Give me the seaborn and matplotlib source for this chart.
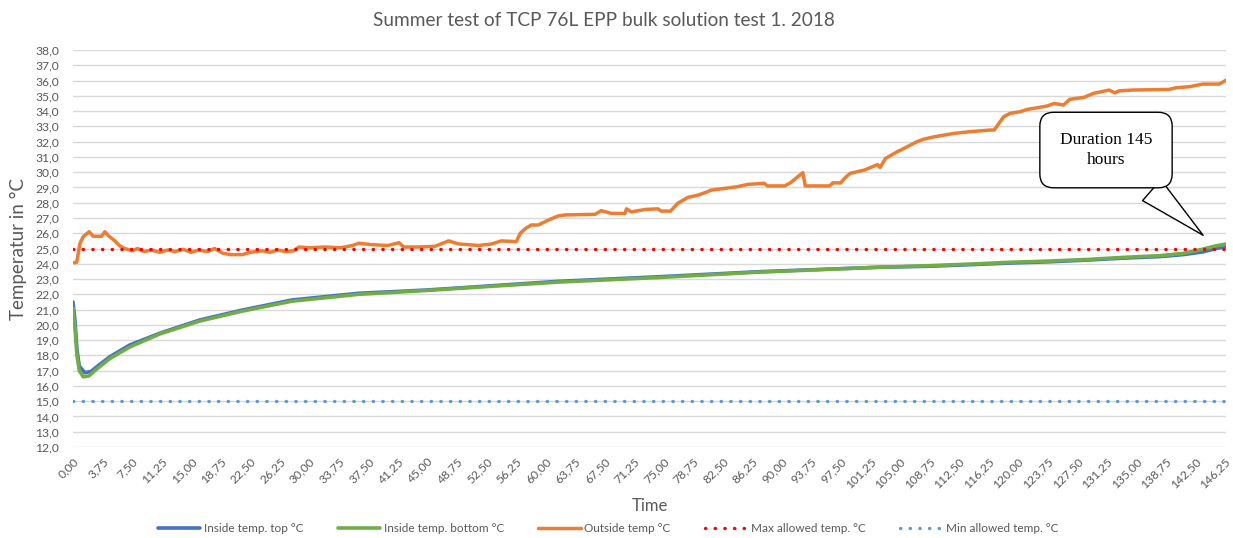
import numpy as np
import pandas as pd
import matplotlib
matplotlib.use("Agg")
import matplotlib.pyplot as plt
import seaborn as sns

# ---- data (time in hours, temperature in °C) ----
top_time = [0.0, 0.25, 0.5, 0.8, 1.5, 2.3, 3.0, 4.7, 7.2, 11.0, 16.1, 21.5, 27.8,
            36.3, 44.8, 49.0, 61.6, 74.3, 87.0, 102.2, 108.9, 114.4, 119.0, 124.0,
            129.1, 133.4, 138.0, 141.0, 143.5, 145.2, 146.5]
top_temp = [21.5, 20.3, 18.4, 17.3, 16.87, 16.95, 17.25, 17.92, 18.68, 19.45, 20.32,
            20.97, 21.63, 22.07, 22.28, 22.42, 22.85, 23.15, 23.48, 23.77, 23.84,
            23.95, 24.05, 24.13, 24.25, 24.37, 24.47, 24.6, 24.78, 25.0, 25.13]

bottom_time = [0.0, 0.25, 0.5, 0.8, 1.3, 2.0, 3.0, 4.7, 7.2, 11.0, 16.1, 21.5, 27.8,
               36.3, 44.8, 49.0, 61.6, 74.3, 87.0, 102.2, 108.9, 114.4, 119.0, 124.0,
               129.1, 133.4, 138.0, 141.0, 143.5, 145.2, 146.5]
bottom_temp = [21.1, 19.8, 18.0, 17.0, 16.6, 16.65, 17.1, 17.8, 18.55, 19.4, 20.25,
               20.9, 21.55, 22.0, 22.25, 22.39, 22.8, 23.1, 23.45, 23.77, 23.88,
               23.99, 24.1, 24.18, 24.29, 24.42, 24.53, 24.68, 24.96, 25.18, 25.3]

outside_time = [0.13, 0.47, 0.89, 1.3, 2.06, 2.57, 3.63, 4.05, 4.47, 5.32, 5.95, 6.58,
                7.5, 8.2, 9.0, 10.0, 11.0, 12.0, 13.0, 14.0, 15.0, 16.0, 17.0, 18.0,
                19.0, 20.0, 21.5, 22.5, 24.0, 25.0, 26.0, 27.0, 28.0, 28.7, 30.0,
                32.0, 34.0, 35.5, 36.3, 38.0, 40.0, 41.4, 42.0, 44.0, 46.0, 47.7,
                49.0, 51.5, 53.2, 54.4, 56.3, 56.8, 57.5, 58.2, 59.1, 60.4, 61.6,
                62.5, 66.3, 67.1, 68.4, 70.1, 70.3, 70.9, 72.7, 74.3, 74.7, 75.9,
                76.8, 78.1, 79.4, 80.6, 81.0, 82.8, 84.4, 85.7, 87.8, 88.2, 90.4,
                91.1, 92.7, 93.0, 96.1, 96.5, 97.5, 98.0, 98.7, 100.5, 102.2, 102.5,
                103.2, 104.3, 105.7, 107.2, 108.1, 109.4, 111.9, 113.9, 116.5, 117.0,
                118.2, 119.0, 120.3, 121.1, 123.7, 124.6, 125.8, 126.6, 128.4, 129.6,
                131.6, 132.3, 132.9, 134.7, 139.2, 140.1, 141.8, 143.5, 145.6, 146.5]
outside_temp = [24.07, 24.1, 25.34, 25.78, 26.1, 25.8, 25.8, 26.1, 25.85, 25.5, 25.17,
                25.0, 24.85, 25.0, 24.8, 24.9, 24.75, 24.9, 24.8, 24.95, 24.75, 24.9,
                24.8, 25.0, 24.7, 24.6, 24.6, 24.75, 24.85, 24.75, 24.9, 24.8, 24.85,
                25.1, 25.05, 25.1, 25.05, 25.2, 25.35, 25.25, 25.2, 25.38, 25.1, 25.1,
                25.15, 25.5, 25.3, 25.2, 25.3, 25.5, 25.45, 26.0, 26.32, 26.54, 26.54,
                26.87, 27.13, 27.2, 27.24, 27.48, 27.3, 27.3, 27.6, 27.4, 27.56, 27.6,
                27.45, 27.45, 27.96, 28.35, 28.5, 28.72, 28.82, 28.94, 29.05, 29.2,
                29.27, 29.1, 29.1, 29.3, 29.97, 29.1, 29.1, 29.3, 29.3, 29.6, 29.92,
                30.14, 30.5, 30.3, 30.9, 31.23, 31.6, 32.0, 32.17, 32.32, 32.54, 32.65,
                32.76, 32.76, 33.63, 33.85, 33.96, 34.1, 34.33, 34.5, 34.4, 34.77, 34.9,
                35.16, 35.38, 35.2, 35.33, 35.38, 35.42, 35.53, 35.6, 35.77, 35.77, 36.04]

limit_time = [0.0, 146.5]
max_allowed = [25.0, 25.0]
min_allowed = [15.0, 15.0]

x_ticks = [i * 3.75 for i in range(40)]
y_ticks = list(range(12, 39))

# ---- styling ----
sns.set_style("white")
plt.rcParams["font.family"] = ["Lato", "DejaVu Sans"]
grey = "#595959"

fig = plt.figure(figsize=(12.33, 5.38), dpi=100)
ax = fig.add_axes([0.0592, 0.1691, 0.9355, 0.7379])

dots = (0, (0.1, 2.8))
sns.lineplot(x=top_time, y=top_temp, ax=ax, color="#4472C4", lw=2.6,
             label="Inside temp. top °C")
sns.lineplot(x=bottom_time, y=bottom_temp, ax=ax, color="#70AD47", lw=2.6,
             label="Inside temp. bottom °C")
sns.lineplot(x=outside_time, y=outside_temp, ax=ax, color="#ED7D31", lw=2.5,
             label="Outside temp °C")
sns.lineplot(x=limit_time, y=max_allowed, ax=ax, color="#FF0000", lw=2.4,
             linestyle=dots, dash_capstyle="round",
             label="Max allowed temp. °C")
sns.lineplot(x=limit_time, y=min_allowed, ax=ax, color="#5B9BD5", lw=2.4,
             linestyle=dots, dash_capstyle="round",
             label="Min allowed temp. °C")

ax.set_xlim(0, 146.5)
ax.set_ylim(12, 38)
ax.set_yticks(y_ticks)
ax.set_yticklabels([f"{v:.1f}".replace(".", ",") for v in y_ticks])
ax.set_xticks(x_ticks)
ax.set_xticklabels([f"{t:.2f}".replace(".", ",") for t in x_ticks],
                   rotation=45, ha="right", rotation_mode="anchor")
ax.tick_params(axis="both", length=0, colors=grey, labelsize=8.7)
ax.tick_params(axis="y", pad=10)
ax.tick_params(axis="x", pad=6)

ax.grid(axis="y", color="#D9D9D9", lw=1)
ax.set_axisbelow(True)
for s in ax.spines.values():
    s.set_visible(False)

ax.set_xlabel("Time", fontsize=12, color=grey, labelpad=6)
ax.set_ylabel("Temperatur in °C", fontsize=13.5, color=grey, labelpad=6)
fig.suptitle("Summer test of TCP 76L EPP bulk solution test 1. 2018",
             fontsize=13.7, color=grey, x=0.49, y=0.978)

# callout
ax.annotate("Duration 145\nhours", xy=(143.8, 25.75), xytext=(131.2, 31.45),
            ha="center", va="center", fontsize=12.5, family="Liberation Serif",
            color="black", linespacing=1.3,
            bbox=dict(boxstyle="round,pad=1.15,rounding_size=0.8", fc="white",
                      ec="black", lw=1),
            arrowprops=dict(arrowstyle="wedge,tail_width=1.6,shrink_factor=0.5",
                            fc="white", ec="black", lw=1))

ax.get_legend().remove()
handles, labels = ax.get_legend_handles_labels()
fig.legend(handles, labels, loc="lower center", bbox_to_anchor=(0.493, -0.012),
           ncol=5, frameon=False, fontsize=8.5, handlelength=3.6,
           columnspacing=2.9, handletextpad=0.3, labelcolor=grey)

fig.savefig("out.png", dpi=100)
